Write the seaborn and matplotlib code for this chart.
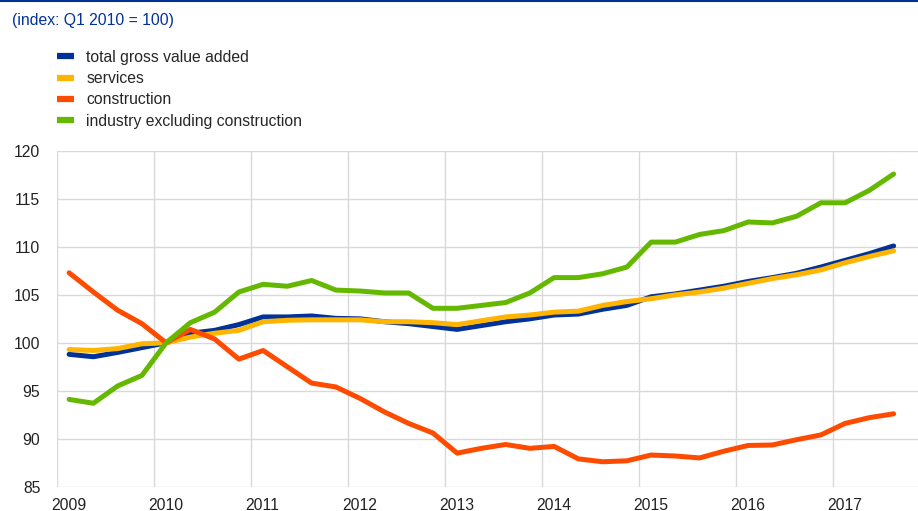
import matplotlib
matplotlib.use("Agg")
import matplotlib.pyplot as plt
import pandas as pd
import seaborn as sns

# Quarterly index, Q1 2010 = 100 (Q1 2009 .. Q3 2017)
quarters = pd.period_range("2009Q1", "2017Q3", freq="Q")

total_gva = [98.8, 98.55, 99.0, 99.5, 100.0, 101.0, 101.3, 101.9, 102.7, 102.7,
             102.8, 102.55, 102.5, 102.2, 102.0, 101.7, 101.4, 101.8, 102.2, 102.5,
             102.9, 103.0, 103.5, 103.9, 104.8, 105.1, 105.5, 105.9, 106.4, 106.8,
             107.25, 107.9, 108.6, 109.3, 110.1]
services = [99.3, 99.2, 99.4, 99.9, 100.0, 100.6, 101.0, 101.3, 102.2, 102.35,
            102.4, 102.4, 102.4, 102.2, 102.2, 102.1, 101.9, 102.3, 102.7, 102.9,
            103.2, 103.3, 103.9, 104.3, 104.6, 105.0, 105.3, 105.7, 106.2, 106.7,
            107.1, 107.6, 108.35, 109.0, 109.6]
construction = [107.3, 105.3, 103.4, 102.0, 100.0, 101.4, 100.4, 98.3, 99.2, 97.5,
                95.8, 95.4, 94.2, 92.8, 91.6, 90.6, 88.5, 89.0, 89.4, 89.0,
                89.2, 87.9, 87.6, 87.7, 88.3, 88.2, 88.0, 88.7, 89.3, 89.35,
                89.9, 90.4, 91.6, 92.2, 92.6]
industry = [94.1, 93.7, 95.5, 96.6, 100.0, 102.1, 103.2, 105.3, 106.1, 105.9,
            106.5, 105.5, 105.4, 105.2, 105.2, 103.6, 103.6, 103.9, 104.2, 105.2,
            106.8, 106.8, 107.2, 107.9, 110.5, 110.5, 111.3, 111.7, 112.6, 112.5,
            113.2, 114.6, 114.6, 115.9, 117.6]

series_names = ["total gross value added", "services", "construction",
                "industry excluding construction"]
colors = ["#003299", "#FFB400", "#FF4B00", "#65B800"]
years = list(range(2009, 2018))

# mid-quarter positions on a continuous year axis
pos = [q.year + (q.quarter - 0.5) / 4 for q in quarters]
frames = []
for name, vals in zip(series_names, [total_gva, services, construction, industry]):
    frames.append(pd.DataFrame({"t": pos, "value": vals, "series": name}))
df = pd.concat(frames, ignore_index=True)

sns.set_theme(style="white")
plt.rcParams["font.family"] = ["Liberation Sans", "DejaVu Sans"]

fig = plt.figure(figsize=(9.18, 5.11), dpi=100)
W, H = 918, 511
ax = fig.add_axes([57 / W, (H - 486.7) / H, (930 - 57) / W, (486.7 - 151) / H])

sns.lineplot(data=df, x="t", y="value", hue="series", hue_order=series_names,
             palette=colors, linewidth=3.6, ax=ax, legend=False)

ax.set_xlim(2009, 2018)
ax.set_ylim(85, 120)
ax.set_yticks(range(85, 121, 5))
ax.set_xticks(years + [2018])
ax.set_xticklabels([])
ax.set_xticks([y + 0.12 for y in years], labels=[str(y) for y in years], minor=True)
ax.tick_params(axis="x", which="both", length=0)
ax.tick_params(axis="x", which="minor", pad=8, labelsize=11.3, labelcolor="#222222")
ax.tick_params(axis="y", length=0, pad=12, labelsize=11.3, labelcolor="#222222")
ax.grid(True, which="major", color="#d9d9d9", linewidth=1)
ax.set_axisbelow(True)
ax.set_xlabel("")
ax.set_ylabel("")
for s in ax.spines.values():
    s.set_visible(False)

# top rule and subtitle
fig.add_artist(plt.Line2D([0, 1], [1 - 1 / H, 1 - 1 / H], color="#003299", linewidth=1.5))
fig.text(12 / W, 1 - 21 / H, "(index: Q1 2010 = 100)", color="#003299",
         fontsize=11.3, va="center", ha="left")

handles = [plt.Line2D([], [], color=c, linewidth=4.5, solid_capstyle="butt") for c in colors]
fig.legend(handles, series_names, loc="upper left", bbox_to_anchor=(51 / W, 1 - 43.5 / H),
           frameon=False, fontsize=11.3, handlelength=1.05, handletextpad=0.8,
           labelspacing=0.4, borderaxespad=0)

fig.savefig("out.png", dpi=100)
